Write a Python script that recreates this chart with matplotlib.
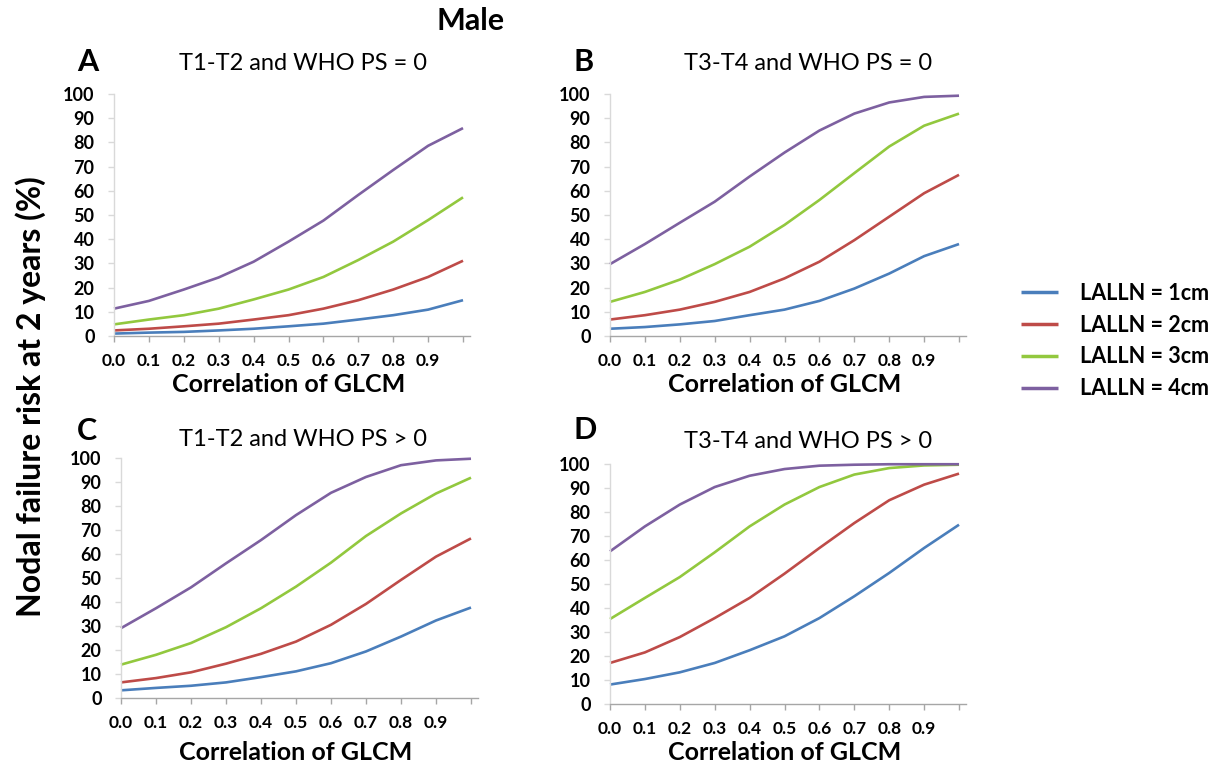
import matplotlib
matplotlib.use("Agg")
from matplotlib import pyplot as plt
import numpy as np

plt.rcParams['font.family'] = ['Lato', 'DejaVu Sans']

# Correlation of GLCM (x) sampled every 0.1
x = [0.0, 0.1, 0.2, 0.3, 0.4, 0.5, 0.6, 0.7, 0.8, 0.9, 1.0]

series_names = ["LALLN = 1cm", "LALLN = 2cm", "LALLN = 3cm", "LALLN = 4cm"]
colors = ["#4A7EBB", "#BE4B48", "#92C83E", "#7D60A0"]

# Panel A: T1-T2 and WHO PS = 0
a_1cm = [1.0, 1.4, 1.7, 2.3, 3.0, 4.0, 5.1, 6.8, 8.6, 10.9, 14.8]
a_2cm = [2.3, 3.0, 4.0, 5.1, 6.8, 8.6, 11.3, 14.8, 19.2, 24.4, 31.1]
a_3cm = [4.8, 6.8, 8.6, 11.3, 15.1, 19.2, 24.4, 31.4, 39.0, 47.9, 57.3]
a_4cm = [11.3, 14.5, 19.2, 24.2, 30.7, 39.0, 47.7, 58.3, 68.6, 78.6, 85.9]

# Panel B: T3-T4 and WHO PS = 0
b_1cm = [3.0, 3.7, 4.8, 6.2, 8.6, 10.9, 14.5, 19.6, 25.8, 33.0, 38.0]
b_2cm = [6.8, 8.6, 10.9, 14.1, 18.2, 23.8, 30.7, 39.6, 49.3, 59.0, 66.6]
b_3cm = [14.1, 18.2, 23.3, 29.7, 36.9, 45.9, 56.2, 67.3, 78.3, 86.9, 91.9]
b_4cm = [29.7, 38.0, 46.8, 55.5, 65.9, 75.8, 84.9, 91.9, 96.5, 98.8, 99.3]

# Panel C: T1-T2 and WHO PS > 0
c_1cm = [3.2, 4.2, 5.1, 6.5, 8.7, 11.1, 14.5, 19.4, 25.6, 32.3, 37.7]
c_2cm = [6.5, 8.3, 10.7, 14.3, 18.4, 23.5, 30.5, 39.2, 49.2, 58.9, 66.5]
c_3cm = [13.9, 18.0, 22.9, 29.5, 37.4, 46.4, 56.4, 67.5, 76.9, 85.2, 91.8]
c_4cm = [29.1, 37.4, 46.1, 56.1, 65.8, 76.2, 85.5, 92.1, 97.0, 99.0, 99.7]

# Panel D: T3-T4 and WHO PS > 0
d_1cm = [8.1, 10.4, 13.2, 17.1, 22.4, 28.2, 35.8, 44.9, 54.6, 65.0, 74.7]
d_2cm = [17.1, 21.5, 27.9, 35.8, 44.2, 54.3, 65.0, 75.4, 84.9, 91.4, 96.0]
d_3cm = [35.4, 44.2, 52.9, 63.2, 74.0, 83.1, 90.4, 95.6, 98.3, 99.4, 99.7]
d_4cm = [63.6, 74.0, 83.1, 90.4, 95.1, 97.9, 99.3, 99.7, 99.9, 99.9, 99.9]

xtick_vals = [0.0, 0.1, 0.2, 0.3, 0.4, 0.5, 0.6, 0.7, 0.8, 0.9, 1.0]
xtick_labels = ["0.0", "0.1", "0.2", "0.3", "0.4", "0.5", "0.6", "0.7", "0.8", "0.9", ""]
ytick_vals = [0, 10, 20, 30, 40, 50, 60, 70, 80, 90, 100]

W, H = 1232, 767
fig = plt.figure(figsize=(W / 100, H / 100), dpi=100)

def px_axes(left, top, right, bottom):
    return fig.add_axes([left / W, 1 - bottom / H, (right - left) / W, (bottom - top) / H])

panels = [
    ("A", "T1-T2 and WHO PS = 0", (114, 94, 470, 336), (88, 62), (303, 63), 384,
     [a_1cm, a_2cm, a_3cm, a_4cm]),
    ("B", "T3-T4 and WHO PS = 0", (610, 94, 966, 336), (584, 62), (808, 63), 384,
     [b_1cm, b_2cm, b_3cm, b_4cm]),
    ("C", "T1-T2 and WHO PS > 0", (121, 458, 478, 698), (87, 431), (303, 440), 752,
     [c_1cm, c_2cm, c_3cm, c_4cm]),
    ("D", "T3-T4 and WHO PS > 0", (610, 464, 966, 704), (585, 430), (808, 442), 752,
     [d_1cm, d_2cm, d_3cm, d_4cm]),
]

for letter, title, box, lpos, tpos, xl_y, data in panels:
    ax = px_axes(*box)
    for vals, col, name in zip(data, colors, series_names):
        ax.plot(x, vals, color=col, lw=1.9, label=name, clip_on=False, solid_capstyle='butt')
    ax.set_xlim(0, 1.02)
    ax.set_ylim(0, 100)
    ax.set_xticks(xtick_vals)
    ax.set_xticklabels(xtick_labels)
    ax.set_yticks(ytick_vals)
    for s in ["top", "right"]:
        ax.spines[s].set_visible(False)
    ax.spines["left"].set_color("#D9D9D9")
    ax.spines["bottom"].set_color("#A6A6A6")
    ax.spines["left"].set_linewidth(1.0)
    ax.spines["bottom"].set_linewidth(1.0)
    ax.tick_params(axis="x", direction="out", length=4, width=1.0, color="#A6A6A6",
                   pad=8, labelsize=12.5)
    ax.tick_params(axis="y", direction="out", length=4, width=1.0, color="#D9D9D9",
                   pad=10, labelsize=13)
    for lab in ax.get_xticklabels() + ax.get_yticklabels():
        lab.set_fontweight("bold")
    cx = (box[0] + box[2] - 7) / 2
    fig.text(cx / W, 1 - xl_y / H, "Correlation of GLCM", ha="center", va="center",
             fontsize=18, fontweight="bold")
    fig.text(lpos[0] / W, 1 - lpos[1] / H, letter, ha="center", va="center",
             fontsize=22, fontweight="bold")
    fig.text(tpos[0] / W, 1 - tpos[1] / H, title, ha="center", va="center", fontsize=17)
    if letter == "B":
        handles, labels = ax.get_legend_handles_labels()

fig.text(471 / W, 1 - 21 / H, "Male", ha="center", va="center", fontsize=22, fontweight="bold")
fig.text(31 / W, 1 - 397 / H, "Nodal failure risk at 2 years (%)", ha="center", va="center",
         rotation=90, fontsize=23, fontweight="bold")

leg = fig.legend(handles, labels, loc="center left", bbox_to_anchor=(1002 / W, 1 - 341 / H),
                 frameon=False, prop={"weight": "bold", "size": 15.5}, handlelength=1.7,
                 handletextpad=1.0, labelspacing=0.5)
for line in leg.get_lines():
    line.set_linewidth(2.5)

fig.savefig("out.png", dpi=100)
